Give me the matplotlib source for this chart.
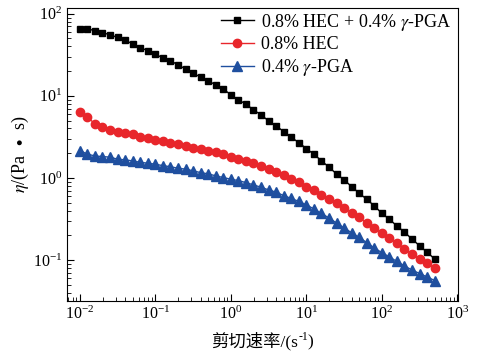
import numpy as np
import matplotlib
matplotlib.use("Agg")
import matplotlib.pyplot as plt

# shear rate: 10 points per decade, 0.01 .. ~500 s^-1
shear_rate = 0.01 * 10 ** (np.arange(48) / 10.0)

eta_mix = [65.1, 65.6, 62.1, 58.7, 55.5, 51.4, 47.8, 42.7, 38.8, 35.4,
           32.3, 28.8, 26.7, 23.9, 21.2, 18.9, 16.9, 15.2, 13.6, 12.1,
           10.3, 8.93, 7.92, 6.75, 5.86, 4.95, 4.30, 3.67, 3.13, 2.69,
           2.28, 1.94, 1.62, 1.35, 1.12, 0.946, 0.784, 0.651, 0.550, 0.456,
           0.371, 0.313, 0.260, 0.218, 0.180, 0.149, 0.124, 0.103]
eta_hec = [6.32, 5.50, 4.56, 4.15, 3.85, 3.67, 3.51, 3.38, 3.19, 3.05,
           2.91, 2.80, 2.69, 2.60, 2.48, 2.34, 2.24, 2.13, 2.04, 1.95,
           1.82, 1.71, 1.60, 1.51, 1.40, 1.28, 1.17, 1.07, 0.973, 0.887,
           0.784, 0.714, 0.621, 0.555, 0.491, 0.435, 0.378, 0.330, 0.280, 0.244,
           0.212, 0.184, 0.160, 0.136, 0.118, 0.103, 0.0912, 0.0792]
eta_pga = [2.15, 1.95, 1.85, 1.82, 1.79, 1.69, 1.66, 1.61, 1.55, 1.51,
           1.47, 1.41, 1.37, 1.31, 1.28, 1.22, 1.16, 1.12, 1.06, 1.01,
           0.964, 0.927, 0.877, 0.822, 0.770, 0.714, 0.670, 0.608, 0.562, 0.517,
           0.469, 0.419, 0.369, 0.325, 0.282, 0.245, 0.215, 0.188, 0.163, 0.140,
           0.123, 0.109, 0.0959, 0.0845, 0.0755, 0.0684, 0.0621, 0.0562]

labels = [r'0.8% HEC + 0.4% $\gamma$-PGA', '0.8% HEC', r'0.4% $\gamma$-PGA']

plt.rcParams['font.family'] = ['Liberation Serif', 'Noto Sans CJK SC', 'DejaVu Sans']
plt.rcParams['mathtext.fontset'] = 'stix'

fig = plt.figure(figsize=(4.87, 3.64), dpi=100)
ax = fig.add_axes([0.1376, 0.173, 0.803, 0.805])

ax.plot(shear_rate, eta_mix, 's-', color='black', ms=5, lw=1.0, label=labels[0])
ax.plot(shear_rate, eta_hec, 'o-', color='#e8262b', ms=6, lw=1.0, label=labels[1])
ax.plot(shear_rate, eta_pga, '^-', color='#1f4f9f', ms=6.5, lw=1.0, label=labels[2])

ax.set_xscale('log'); ax.set_yscale('log')
ax.set_xlim(10 ** -2.17, 10 ** 3.01)
ax.set_ylim(10 ** -1.5, 10 ** 2.07)
ax.tick_params(which='both', direction='in', top=False, right=False, labelsize=11.5)
ax.tick_params(which='major', length=5)
ax.tick_params(which='minor', length=3)

ax.set_ylabel(r'$\eta$/(Pa$\;\;\bullet\;\;$s)', fontsize=13, labelpad=1)

ax.legend(loc='upper left', bbox_to_anchor=(0.385, 1.0), frameon=False, fontsize=13,
          handlelength=1.8, handletextpad=0.4, labelspacing=0.2, borderpad=0.2,
          borderaxespad=0.0)

# x label pieced together: CJK text needs plain-text font fallback, so the
# superscript "-1" is a separate small text
W, H = fig.bbox.width, fig.bbox.height
base_y = 18.0  # baseline, px from bottom
parts = [('剪切速率/(s', 12.5, 0.0), ('-1', 8.5, 6.0), (')', 12.5, 0.0)]
texts = [fig.text(0, (base_y + dy) / H, s, fontsize=fs, va='baseline', ha='left')
         for s, fs, dy in parts]
fig.canvas.draw()
r = fig.canvas.get_renderer()
widths = [t.get_window_extent(r).width for t in texts]
x = (67 + 391 / 2) - sum(widths) / 2
for t, w in zip(texts, widths):
    t.set_x(x / W)
    x += w

fig.savefig('out.png', dpi=100)
